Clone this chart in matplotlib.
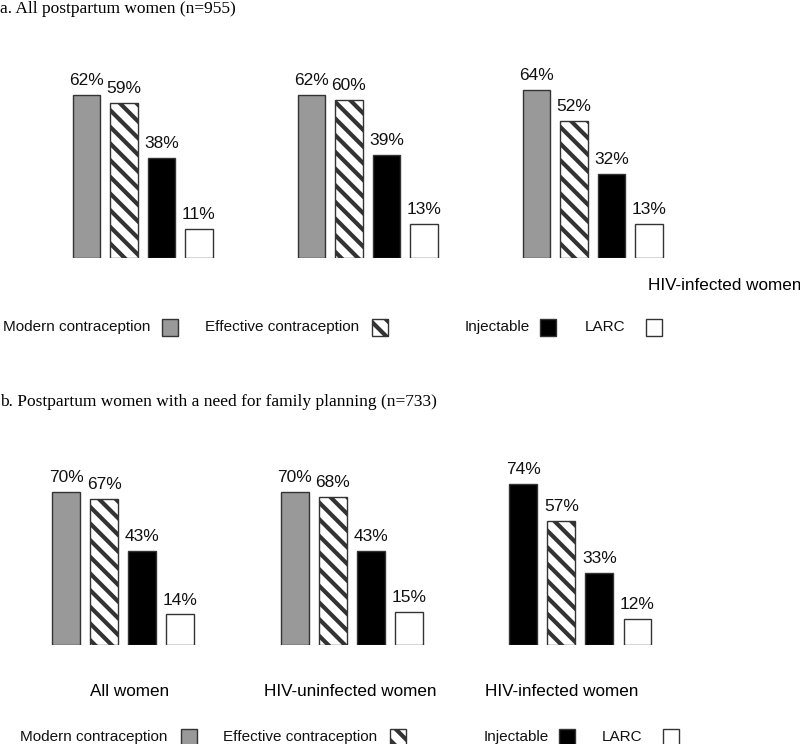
import matplotlib
matplotlib.use('Agg')
import matplotlib.pyplot as plt
from matplotlib.patches import Rectangle

plt.rcParams['font.family'] = ['Liberation Sans', 'DejaVu Sans']
plt.rcParams['hatch.linewidth'] = 3.0

# data
measures = ['Modern contraception', 'Effective contraception', 'Injectable', 'LARC']
groups = ['All women', 'HIV-uninfected women', 'HIV-infected women']
values_a = [[62, 59, 38, 11], [62, 60, 39, 13], [64, 52, 32, 13]]
values_b = [[70, 67, 43, 14], [70, 68, 43, 15], [74, 57, 33, 12]]
title_a = 'a. All postpartum women (n=955)'
title_b = 'b. Postpartum women with a need for family planning (n=733)'

W, H = 800, 744
styles = [dict(color='#999999', hatch=None),
          dict(color='white', hatch='\\\\'),
          dict(color='black', hatch=None),
          dict(color='white', hatch=None)]


def fx(px):
    return px / W


def fy(py):
    return 1 - py / H


def draw_panel(values, base_px, px_per_pct, ymax, x0_px, pitch_px, first_colors=None):
    bottom = fy(base_px)
    height = ymax * px_per_pct / H
    ax = fig.add_axes([0, bottom, 1, height])
    left = -x0_px / pitch_px
    right = (W - x0_px) / pitch_px
    ax.set_xlim(left, right)
    ax.set_ylim(0, ymax)
    ax.axis('off')
    for g, vals in enumerate(values):
        for j, v in enumerate(vals):
            st = styles[j]
            color = st['color']
            if first_colors is not None and j == 0:
                color = first_colors[g]
            ax.bar(6 * g + j, v, width=0.73, color=color, hatch=st['hatch'],
                   edgecolor='#333333', linewidth=1.0)
            ax.annotate(f'{v}%', (6 * g + j, v), xytext=(0, 5),
                        textcoords='offset points', ha='center', va='bottom',
                        fontsize=12.5, color='#111111')
    return ax


def draw_legend(y_px, items):
    for label, text_left, box_left in items:
        fig.text(fx(text_left), fy(y_px), label, ha='left', va='center',
                 fontsize=11, color='#111111')
    for j, (label, text_left, box_left) in enumerate(items):
        st = styles[j]
        r = Rectangle((fx(box_left), fy(y_px + 8.5)), fx(16), 17 / H,
                      transform=fig.transFigure, facecolor=st['color'],
                      hatch=st['hatch'], edgecolor='#333333', linewidth=1.0)
        fig.patches.append(r)


fig = plt.figure(figsize=(8, 7.44), dpi=100)

fig.text(fx(0), fy(9), title_a, ha='left', va='center', fontsize=12.5,
         family=['Liberation Serif', 'DejaVu Serif'])
fig.text(fx(0), fy(402), title_b, ha='left', va='center', fontsize=12.5,
         family=['Liberation Serif', 'DejaVu Serif'])

draw_panel(values_a, 258, 2.63, 70, 86.5, 37.5)
draw_panel(values_b, 645, 2.18, 80, 66, 38.1,
           first_colors=['#999999', '#999999', 'black'])

# panel a only shows the last group label
fig.text(fx(648), fy(286), groups[2], ha='left', va='center', fontsize=12.3)
for name, cx in zip(groups, [130, 350, 562]):
    fig.text(fx(cx), fy(692), name, ha='center', va='center', fontsize=12.3)

draw_legend(327, [(measures[0], 3, 162), (measures[1], 205, 372),
                  (measures[2], 465, 540), (measures[3], 585, 646)])
draw_legend(737, [(measures[0], 20, 181), (measures[1], 223, 390),
                  (measures[2], 484, 559), (measures[3], 602, 663)])

fig.savefig('out.png', dpi=100)
